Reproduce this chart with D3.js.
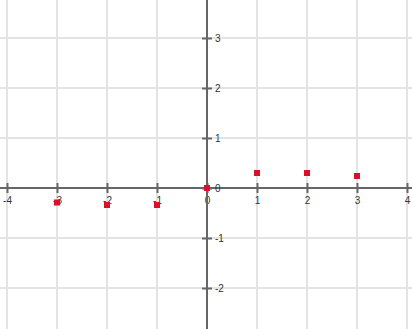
<!DOCTYPE html>
<html>
<head>
<meta charset="utf-8">
<script src="https://cdnjs.cloudflare.com/ajax/libs/d3/7.8.5/d3.min.js"></script>
<style>
  html, body { margin: 0; padding: 0; background: #fff; }
  svg { display: block; }
</style>
</head>
<body>
<div id="chart"></div>
<script>
// data
const xTicks = [-4, -3, -2, -1, 0, 1, 2, 3, 4];
const yTicks = [-2, -1, 0, 1, 2, 3];
const pointX = [-3, -2, -1, 0, 1, 2, 3];
const pointY = [-0.29, -0.34, -0.34, 0, 0.3, 0.3, 0.24];

const width = 412, height = 329;

const svg = d3.select('#chart')
    .append('svg')
    .attr('width', width)
    .attr('height', height);

const x = d3.scaleLinear().domain([-4.14, 4.1]).range([0, width]);
const y = d3.scaleLinear().domain([3.76, -2.82]).range([0, height]);

const fmt = d => String(d); // plain hyphen minus like the original

// grid
svg.append('g')
    .selectAll('line')
    .data(xTicks)
    .join('line')
    .attr('x1', d => x(d)).attr('x2', d => x(d))
    .attr('y1', 0).attr('y2', height)
    .attr('stroke', '#e3e3e3')
    .attr('stroke-width', 2);

svg.append('g')
    .selectAll('line')
    .data(yTicks)
    .join('line')
    .attr('y1', d => y(d)).attr('y2', d => y(d))
    .attr('x1', 0).attr('x2', width)
    .attr('stroke', '#e3e3e3')
    .attr('stroke-width', 2);

// axes
const xAxis = g => g
    .attr('transform', `translate(0,${y(0)})`)
    .call(d3.axisBottom(x).tickValues(xTicks).tickSizeInner(5).tickSizeOuter(0).tickFormat(fmt))
    .call(g => g.select('.domain').attr('d', `M0,0H${width}`).attr('stroke', '#666').attr('stroke-width', 2))
    .call(g => g.selectAll('.tick line').attr('y1', -5).attr('y2', 5).attr('stroke', '#666').attr('stroke-width', 2))
    .call(g => g.selectAll('.tick text').attr('y', 9).attr('fill', '#333'));

const yAxis = g => g
    .attr('transform', `translate(${x(0)},0)`)
    .call(d3.axisRight(y).tickValues(yTicks).tickSizeInner(5).tickSizeOuter(0).tickFormat(fmt))
    .call(g => g.select('.domain').attr('d', `M0,0V${height}`).attr('stroke', '#666').attr('stroke-width', 2))
    .call(g => g.selectAll('.tick line').attr('x1', -5).attr('x2', 5).attr('stroke', '#666').attr('stroke-width', 2))
    .call(g => g.selectAll('.tick text').attr('x', 8).attr('fill', '#333'));

svg.append('g').call(xAxis)
    .attr('font-family', 'Arial, "Liberation Sans", sans-serif')
    .attr('font-size', 10);
svg.append('g').call(yAxis)
    .attr('font-family', 'Arial, "Liberation Sans", sans-serif')
    .attr('font-size', 10);

// points
const pts = pointX.map((v, i) => ({ x: v, y: pointY[i] }));
svg.append('g')
    .selectAll('rect')
    .data(pts)
    .join('rect')
    .attr('x', d => x(d.x) - 3)
    .attr('y', d => y(d.y) - 3)
    .attr('width', 6)
    .attr('height', 6)
    .attr('fill', '#d8102c');
</script>
</body>
</html>
